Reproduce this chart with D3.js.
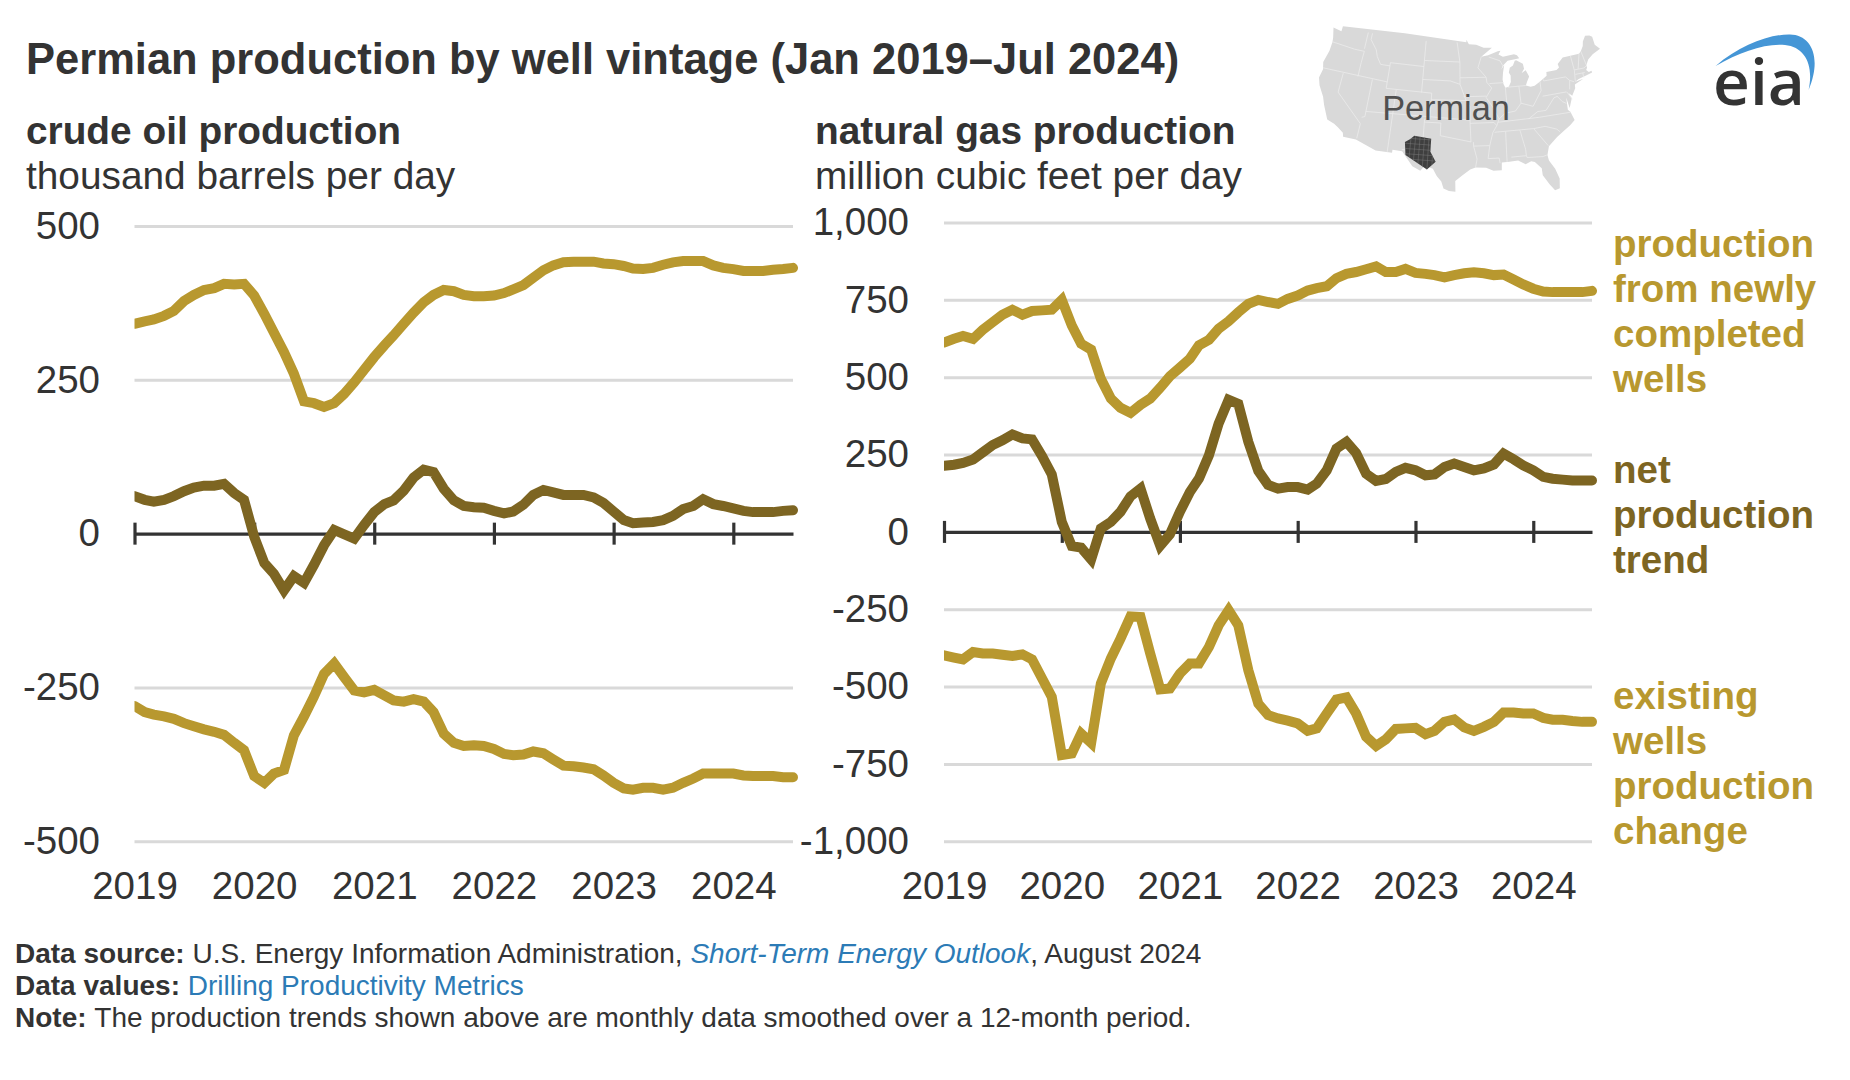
<!DOCTYPE html>
<html>
<head>
<meta charset="utf-8">
<script src="https://cdn.jsdelivr.net/npm/d3@7"></script>
<style>
  html, body { margin: 0; padding: 0; background: #fff; }
  svg { display: block; }
  text { font-family: "Liberation Sans", Arial, sans-serif; fill: #333; }
</style>
</head>
<body>
<script>
// monthly, Jan 2019 - Jul 2024
let oilNew = [341,345,348,354,362,378,388,396,399,406,405,406,387,357,327,295,260,215,212,206,212,227,246,266,287,306,322,341,359,376,388,396,394,388,386,386,387,391,397,404,416,428,436,441,442,442,442,439,438,435,431,430,432,437,441,443,443,443,436,432,430,427,427,427,429,430,432]
let oilNet = [61,55,52,55,61,69,75,78,78,81,66,55,-5,-48,-65,-92,-69,-80,-51,-19,6,-1,-8,14,35,48,54,70,91,104,100,73,54,45,43,42,37,33,36,47,63,71,67,63,63,63,59,50,36,22,17,18,19,22,29,40,45,56,48,45,41,37,35,35,35,37,38]
let oilExisting = [-280,-290,-294,-297,-301,-308,-313,-318,-322,-327,-340,-352,-394,-405,-390,-384,-328,-297,-265,-228,-211,-233,-255,-258,-254,-263,-271,-273,-269,-273,-290,-325,-340,-345,-344,-345,-350,-358,-360,-359,-354,-357,-367,-377,-378,-380,-383,-393,-405,-414,-416,-413,-413,-416,-413,-405,-398,-390,-390,-390,-390,-393,-394,-394,-394,-396,-396]

let gasNew = [612,624,633,624,653,678,702,718,702,714,716,718,750,667,608,589,495,431,401,385,411,431,466,503,531,560,603,621,657,681,710,737,750,743,737,753,764,780,788,794,820,834,840,849,858,840,840,850,837,834,830,823,830,836,839,836,830,832,816,800,786,777,775,775,775,775,779]
let gasNet = [214,217,223,234,257,281,296,315,302,299,245,186,32,-46,-51,-89,11,32,65,115,140,43,-45,-8,65,129,172,248,350,427,414,291,197,152,140,145,145,137,156,199,269,291,255,188,165,171,194,207,199,183,186,210,221,210,199,205,218,253,235,215,199,178,172,169,166,166,166]
let gasExisting = [-399,-406,-412,-388,-393,-393,-397,-401,-396,-412,-474,-533,-721,-716,-652,-682,-490,-409,-345,-273,-275,-393,-509,-506,-458,-425,-425,-372,-302,-253,-302,-447,-555,-592,-603,-610,-619,-643,-635,-587,-542,-535,-587,-662,-692,-671,-637,-635,-633,-654,-643,-614,-606,-632,-643,-630,-614,-584,-584,-587,-587,-601,-607,-607,-611,-614,-614]

let years = [2019, 2020, 2021, 2022, 2023, 2024]
let oilTicks = [500, 250, 0, -250, -500]
let gasTicks = [1000, 750, 500, 250, 0, -250, -500, -750, -1000]

let newWellsLabel = ['production', 'from newly', 'completed', 'wells']
let netLabel = ['net', 'production', 'trend']
let existingLabel = ['existing', 'wells', 'production', 'change']

// rough lon/lat outline of the lower 48 for the locator map
let usOutline = [[-124.7,48.4],[-122.8,48.2],[-122.8,49],[-95.15,49],[-95.15,49.4],[-94.6,48.7],[-93,48.6],[-91.4,48.1],[-89.6,48],[-92,46.7],[-90.5,46.9],[-88.4,47.4],[-87.8,47.45],[-88.3,46.9],[-87.4,46.5],[-85,46.7],[-84.4,46.5],[-84,46],[-84.7,45.95],[-86.5,45.8],[-87.6,45.1],[-88,44.55],[-87.3,45.2],[-87.7,44],[-87.9,43],[-87.8,42.3],[-87.5,41.7],[-86.8,41.8],[-86.3,42.5],[-86.2,43.5],[-86.5,44],[-86.2,44.7],[-85.5,45],[-85,45.7],[-84.7,45.75],[-83.4,45.1],[-83.3,44.3],[-83.9,43.7],[-83,44.05],[-82.5,43],[-83.1,42.2],[-83.4,41.7],[-82.5,41.4],[-81.7,41.5],[-80.5,42],[-79,42.7],[-78.9,43.3],[-76.8,43.3],[-76.2,43.6],[-76.3,44.2],[-75,45],[-71.5,45],[-71,45.3],[-70.3,46],[-70,46.7],[-69.2,47.45],[-68.3,47.3],[-67.8,47],[-67.8,45.7],[-67,44.9],[-68.8,44.4],[-70,43.8],[-70.7,43],[-70.7,42.6],[-71,42.3],[-70.6,41.9],[-70,42],[-70,41.7],[-71.2,41.5],[-72.9,41.25],[-73.7,40.95],[-72,41.1],[-73.9,40.55],[-74,40],[-74.9,38.95],[-75.5,39.5],[-75.1,38.6],[-75.9,37.2],[-76.1,38.9],[-76.3,37],[-75.9,36.6],[-75.5,35.25],[-76.5,34.6],[-77.9,33.9],[-79.2,33.2],[-80.9,32],[-81.4,30.7],[-81.3,29.8],[-80.5,28.4],[-80.05,26.8],[-80.3,25.3],[-81.1,25.1],[-81.8,26.1],[-82.7,27.7],[-82.7,28.8],[-83.7,29.9],[-84.3,30.05],[-85.3,29.7],[-86.5,30.4],[-88,30.3],[-89.3,30.3],[-89.4,29.1],[-90.8,29.1],[-92,29.6],[-93.8,29.7],[-94.7,29.4],[-96,28.5],[-97.2,27.6],[-97.15,25.95],[-98.2,26.05],[-99.1,26.4],[-99.5,27.5],[-100.3,28.3],[-101,29.4],[-102.4,29.8],[-103.1,29],[-104.5,29.6],[-106.5,31.75],[-108.2,31.78],[-108.2,31.33],[-111.07,31.33],[-114.8,32.5],[-117.1,32.53],[-117.3,33.1],[-118.4,33.75],[-119.2,34.15],[-120.6,34.55],[-121.9,36.6],[-122.5,37.75],[-123.8,39.3],[-124.35,40.4],[-124.1,41.8],[-124.5,42.85],[-124,44.8],[-123.95,46.2],[-124.1,46.9],[-124.7,48.4]]
let stateLines = [
  [[-124,46.25],[-119,46],[-116.9,46]], [[-117,49],[-117,46.4]], [[-116.9,46],[-117,44.2],[-117,42]],
  [[-124.2,42],[-111.05,42]], [[-120,42],[-120,39],[-114.6,35],[-114.7,32.7]], [[-114.05,42],[-114.05,36.2],[-114.6,36]],
  [[-114.05,37],[-94.6,37]], [[-109.05,41],[-109.05,31.33]], [[-111.05,45],[-111.05,41],[-102.05,41]],
  [[-116.05,49],[-116.05,48],[-114.5,46.6],[-114,45.6],[-113,44.5],[-111.05,44.5]], [[-111.05,45],[-104.05,45]],
  [[-104.05,49],[-104.05,41]], [[-104.05,45.94],[-96.56,45.94]], [[-104.05,43],[-98.5,43],[-96.5,42.5]],
  [[-102.05,41],[-102.05,37]], [[-102.05,40],[-95.3,40]], [[-103.05,37],[-103.05,32],[-106.6,32]],
  [[-103,36.5],[-100,36.5],[-100,34.55],[-94.5,33.65]], [[-94.05,33.6],[-94.05,33],[-93.5,31],[-93.8,29.7]],
  [[-94.05,33],[-91.2,33]], [[-91.2,33],[-91.6,31],[-89.7,31],[-89.6,30.2]],
  [[-97.2,49],[-96.56,45.94],[-96.5,42.5],[-95.3,40],[-94.6,39.1],[-94.6,36.5],[-94.5,33.65]],
  [[-96.5,43.5],[-91.2,43.5]], [[-95.8,40.6],[-91.4,40.6]],
  [[-92,46.7],[-92.8,45],[-91.2,43.5],[-91.1,42.7],[-90.2,41.8],[-91.4,40.4],[-90.2,38.8],[-89.2,37],[-89.7,36],[-90.5,35],[-91.2,33]],
  [[-90.6,42.5],[-87.8,42.5]], [[-90.4,46.6],[-88.1,45.9],[-87.6,45.1]], [[-87.5,41.7],[-87.5,39.3],[-88,37.8]],
  [[-84.8,41.7],[-84.8,39.1]], [[-87,41.75],[-83.4,41.7]],
  [[-89.2,37],[-88,37.8],[-86,38],[-84.8,39.1],[-82.6,38.4],[-80.6,40.6],[-80.5,42]],
  [[-80.5,39.72],[-75.8,39.72]], [[-79.76,42.25],[-79.76,42],[-75.35,42],[-74.7,41.35],[-75.1,40]], [[-74.7,41.35],[-73.9,41]],
  [[-73.65,41],[-73.3,42.7],[-73.35,45]], [[-73.3,42.05],[-71.4,42]], [[-73.3,42.75],[-71.3,42.7],[-70.8,42.9]],
  [[-72.5,42.75],[-71.5,45]], [[-70.7,43.1],[-71,45.3]], [[-71.8,42],[-71.85,41.3]],
  [[-89.5,36.5],[-81.7,36.6],[-75.9,36.55]], [[-90.2,35],[-83.1,35]], [[-88.2,35],[-88.4,30.3]], [[-85.6,35],[-85,32],[-85,31]],
  [[-87.6,31],[-85,31],[-84.9,30.7],[-82.2,30.55],[-81.5,30.7]], [[-83.1,35],[-81,32.1]], [[-83.1,35],[-81,35.1],[-79,34.4],[-78.5,33.9]],
  [[-83.7,36.6],[-81.9,37.5],[-80.3,37.5],[-78.4,39.2],[-77.8,39.3]], [[-77.8,39.4],[-77,38.4],[-76.3,38]], [[-75.75,39.7],[-75.05,38.45]],
  [[-94.6,36.5],[-90.2,36.5],[-89.7,36]]
]
let permianOutline = [[-104.66,34.3],[-101.6,34],[-101.6,32],[-100.6,30.5],[-102,29.25],[-105.85,31.2],[-106.2,33.2],[-105.3,33.75]]
let permianLonLines = [-105.2, -104.4, -103.6, -102.8, -102, -101.2]
let permianLatLines = [33.8, 33, 32.2, 31.4, 30.6]

const GOLD = '#b8982f'
const BROWN = '#7d6522'
const GRID = '#d9d9d9'
const DARK = '#333333'
const LINK = '#2c7bb6'
const FONT_SIZE = 38.8

let months = d3.utcMonth.range(new Date(Date.UTC(2019, 0, 1)), new Date(Date.UTC(2024, 7, 1)))

let svg = d3.select('body').append('svg')
  .attr('width', 1850)
  .attr('height', 1080)
  .attr('viewBox', '0 0 1850 1080')

function drawPanel (o) {
  let xScale = d3.scaleUtc().domain([months[0], new Date(Date.UTC(2024, 6, 1))]).range([o.left, o.right])
  let yScale = d3.scaleLinear().domain([o.ticks[0], o.ticks[o.ticks.length - 1]]).range([o.top, o.bottom])
  let g = svg.append('g').attr('class', o.name)

  // gridlines and value labels, 0 gets the dark axis below
  let yAxis = d3.axisLeft(yScale).tickValues(o.ticks).tickSize(0).tickPadding(o.left - o.labelX)
    .tickFormat(d => d3.format(',')(d).replace('−', '-'))
  let yGroup = g.append('g').attr('transform', `translate(${o.left},0)`).call(yAxis)
  yGroup.select('.domain').remove()
  yGroup.selectAll('text').style('font-size', '38.5px').attr('fill', DARK)
  yGroup.selectAll('.tick').append('line')
    .attr('x1', 0).attr('x2', o.right - o.left)
    .attr('stroke', d => d === 0 ? 'none' : GRID)
    .attr('stroke-width', 3)

  let zeroAxis = d3.axisBottom(xScale)
    .tickValues(years.map(y => new Date(Date.UTC(y, 0, 1))))
    .tickSizeInner(0).tickSizeOuter(0).tickFormat('')
  let zeroGroup = g.append('g').attr('transform', `translate(0,${yScale(0)})`).call(zeroAxis)
  zeroGroup.select('.domain').attr('stroke', DARK).attr('stroke-width', 3.2)
  zeroGroup.selectAll('.tick line')
    .attr('y1', -11).attr('y2', 11)
    .attr('stroke', DARK).attr('stroke-width', 3.2)

  let yearAxis = d3.axisBottom(xScale)
    .tickValues(years.map(y => new Date(Date.UTC(y, 0, 1))))
    .tickSize(0).tickPadding(0).tickFormat(d3.utcFormat('%Y'))
  let yearGroup = g.append('g').attr('transform', `translate(0,${o.yearBaseline})`).call(yearAxis)
  yearGroup.select('.domain').remove()
  yearGroup.selectAll('text').style('font-size', '38.5px').attr('dy', 0).attr('fill', DARK)

  let clipId = 'clip-' + o.name
  svg.append('clipPath').attr('id', clipId).append('rect')
    .attr('x', o.left).attr('y', 0)
    .attr('width', o.right - o.left + 6).attr('height', 1080)

  let line = d3.line().x((d, i) => xScale(months[i])).y(d => yScale(d))
  o.series.forEach(s => {
    g.append('path')
      .attr('d', line(s.values))
      .attr('clip-path', `url(#${clipId})`)
      .attr('fill', 'none')
      .attr('stroke', s.color)
      .attr('stroke-width', 10)
      .attr('stroke-linejoin', 'miter')
      .attr('stroke-linecap', 'round')
  })
}

drawPanel({
  name: 'oil', left: 134.5, right: 793, top: 226, bottom: 841.3, labelX: 100,
  yearBaseline: 899, ticks: oilTicks,
  series: [{values: oilNew, color: GOLD}, {values: oilExisting, color: GOLD}, {values: oilNet, color: BROWN}]
})
drawPanel({
  name: 'gas', left: 944, right: 1592, top: 222.5, bottom: 841.3, labelX: 909,
  yearBaseline: 899, ticks: gasTicks,
  series: [{values: gasNew, color: GOLD}, {values: gasExisting, color: GOLD}, {values: gasNet, color: BROWN}]
})

/* titles */
svg.append('text').attr('x', 26).attr('y', 74)
  .style('font-size', '43.5px').style('font-weight', 'bold')
  .text('Permian production by well vintage (Jan 2019–Jul 2024)')

function panelTitle (x, bold, unit) {
  svg.append('text').attr('x', x).attr('y', 144)
    .style('font-size', FONT_SIZE + 'px').style('font-weight', 'bold').text(bold)
  svg.append('text').attr('x', x).attr('y', 189)
    .style('font-size', FONT_SIZE + 'px').text(unit)
}
panelTitle(26, 'crude oil production', 'thousand barrels per day')
panelTitle(815, 'natural gas production', 'million cubic feet per day')

/* series labels */
function seriesLabel (lines, firstBaseline, color) {
  lines.forEach((t, i) => {
    svg.append('text')
      .attr('x', 1613).attr('y', firstBaseline + i * 45.1)
      .style('font-size', '38.5px').style('font-weight', 'bold')
      .style('fill', color)
      .text(t)
  })
}
seriesLabel(newWellsLabel, 257, GOLD)
seriesLabel(netLabel, 483, BROWN)
seriesLabel(existingLabel, 709, GOLD)

/* footer */
function footerLine (y, parts) {
  let t = svg.append('text').attr('x', 15).attr('y', y).style('font-size', '28px')
  parts.forEach(p => {
    let span = t.append('tspan').text(p.text)
    if (p.bold) span.style('font-weight', 'bold')
    if (p.italic) span.style('font-style', 'italic')
    if (p.link) span.style('fill', LINK)
  })
}
footerLine(963, [
  {text: 'Data source: ', bold: true},
  {text: 'U.S. Energy Information Administration, '},
  {text: 'Short-Term Energy Outlook', italic: true, link: true},
  {text: ', August 2024'}
])
footerLine(995, [{text: 'Data values: ', bold: true}, {text: 'Drilling Productivity Metrics', link: true}])
footerLine(1027, [
  {text: 'Note: ', bold: true},
  {text: 'The production trends shown above are monthly data smoothed over a 12-month period.'}
])

/* locator map */
let usShape = {type: 'Polygon', coordinates: [usOutline]}
let projection = d3.geoConicEqualArea().parallels([29.5, 45.5]).rotate([96, 0]).center([0, 37.5])
  .fitExtent([[1319, 26], [1600, 203]], usShape)
let geoPath = d3.geoPath(projection)
// reference map is a little flatter than the plain projection
let mapGroup = svg.append('g').attr('class', 'map')
  .attr('transform', 'translate(0,25) scale(1,0.949) translate(0,-26)')
mapGroup.append('path').attr('d', geoPath(usShape)).attr('fill', GRID)
mapGroup.append('path')
  .attr('d', geoPath({type: 'MultiLineString', coordinates: stateLines}))
  .attr('fill', 'none').attr('stroke', '#ececec').attr('stroke-width', 0.8)

let permianShape = {type: 'Polygon', coordinates: [permianOutline.concat([permianOutline[0]])]}
mapGroup.append('path').attr('d', geoPath(permianShape)).attr('fill', '#3f3f3f')
let countyLines = permianLonLines.map(lon => [[lon, 29], [lon, 35]])
  .concat(permianLatLines.map(lat => [[-106.5, lat], [-100, lat]]))
mapGroup.append('clipPath').attr('id', 'clip-permian').append('path').attr('d', geoPath(permianShape))
mapGroup.append('path')
  .attr('d', geoPath({type: 'MultiLineString', coordinates: countyLines}))
  .attr('clip-path', 'url(#clip-permian)')
  .attr('fill', 'none').attr('stroke', '#7a7a7a').attr('stroke-width', 0.5)

svg.append('text').attr('x', 1446).attr('y', 120).attr('text-anchor', 'middle')
  .style('font-size', '34.3px').style('fill', '#505050').text('Permian')

/* eia logo */
svg.append('path')
  .attr('d', 'M1715.6,66 C1740,45 1770,34 1790,34.5 C1812,35 1822,58 1808.6,90 C1814,65 1805,47 1785,45 C1765,43 1740,52 1715.6,66 Z')
  .attr('fill', '#4596d6')
svg.append('text').attr('x', 1713).attr('y', 105)
  .style('font-family', '"Open Sans", sans-serif').style('font-weight', 600).style('font-size', '64px')
  .text('eia')
</script>
</body>
</html>
